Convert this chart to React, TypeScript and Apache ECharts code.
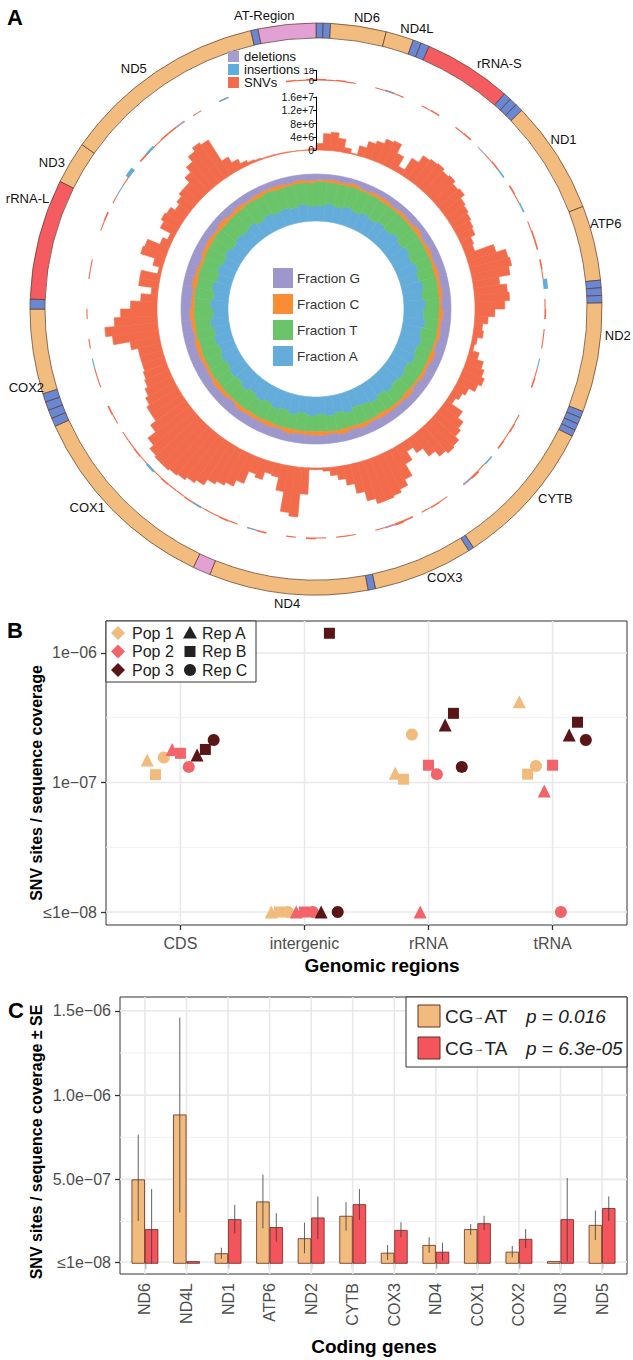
import React, { useEffect, useRef } from "react";
import * as echarts from "echarts";

// ================= Panel A : mitochondrial genome map =================
const featureNames = ["", "", "ND6", "ND4L", "", "", "rRNA-S", "", "", "", "ND1", "ATP6", "", "", "", "ND2", "", "", "", "", "CYTB", "", "COX3", "", "ND4", "", "COX1", "", "", "", "", "COX2", "", "rRNA-L", "ND3", "ND5", "", "AT-Region"];
const featureTypes = ["tRNA", "tRNA", "CDS", "CDS", "tRNA", "tRNA", "rRNA", "tRNA", "tRNA", "tRNA", "CDS", "CDS", "tRNA", "tRNA", "tRNA", "CDS", "tRNA", "tRNA", "tRNA", "tRNA", "CDS", "tRNA", "CDS", "tRNA", "CDS", "AT", "CDS", "tRNA", "tRNA", "tRNA", "tRNA", "CDS", "tRNA", "rRNA", "CDS", "CDS", "tRNA", "AT"];
const featureStarts = [1, 56, 113, 546, 763, 827, 894, 1580, 1641, 1702, 1764, 2645, 3227, 3286, 3345, 3403, 4254, 4306, 4358, 4410, 4461, 5618, 5661, 6438, 6496, 7733, 7871, 9419, 9486, 9553, 9620, 9687, 10346, 10423, 11362, 11691, 13290, 13346];
const featureEnds = [55, 112, 545, 762, 826, 893, 1579, 1640, 1701, 1763, 2644, 3226, 3285, 3344, 3402, 4253, 4305, 4357, 4409, 4460, 5617, 5660, 6437, 6495, 7732, 7870, 9418, 9485, 9552, 9619, 9686, 10345, 10422, 11361, 11690, 13289, 13345, 13794];

// SNV sequencing depth per window (millions), 144 windows clockwise from the origin
const snvDepthMillions = [
  2, 5, 5.6, 4, 1.5, 0.3, 3, 5, 6, 7.5,
  8, 5, 1.8, 6, 8.5, 9, 9.3, 8.5, 9, 8,
  8.5, 7, 6.5, 6, 5.5, 5, 3.5, 3, 9, 12,
  12.5, 11.5, 8, 10, 10.5, 9, 6, 4, 2.5, 3,
  1.5, 1, 3, 5, 6, 7, 6, 4, 3, 2,
  6, 8, 9, 10.5, 11, 10, 8, 5, 3, 6,
  10, 12, 13, 13.5, 13.6, 12, 9, 6, 4, 2.5,
  1, 0.5, 0.5, 8, 15, 14, 8, 4, 3.6, 6,
  5, 9, 11, 12, 13, 15, 16, 17, 17.5, 18,
  18, 17.5, 16, 13, 11, 11, 10, 9, 8, 7.5,
  7, 7, 7, 9, 14, 16, 13, 11, 8, 5,
  2, 6, 6, 1, 3, 7.5, 7, 3, 1.5, 5,
  6, 5.5, 4, 5, 6, 6, 8, 10, 12, 13.3,
  12.5, 5, 3, 1.5, 0.8, 0.5, 0.3, 0.3, 0.2, 0.2,
  0.1, 0.1, 0.1, 0.5,
];
const depthTickLabels = ["0", "4e+6", "8e+6", "1.2e+7", "1.6e+7"];

// variant counts track (same 144 windows)
const trackSnvCounts = [
  3, 2, 3, 2, 0, 0, 2, 3, 2, 0,
  0, 2, 3, 0, 0, 2, 3, 0, 0, 2,
  3, 0, 0, 3, 2, 0, 0, 2, 3, 3,
  0, 3, 2, 0, 0, 2, 3, 0, 2, 2,
  0, 0, 2, 3, 0, 0, 0, 2, 3, 2,
  3, 0, 0, 2, 4, 3, 0, 0, 2, 3,
  2, 0, 3, 4, 3, 2, 0, 0, 2, 2,
  0, 2, 3, 0, 2, 0, 0, 3, 2, 0,
  2, 3, 2, 2, 3, 3, 2, 2, 3, 2,
  3, 2, 3, 2, 2, 0, 2, 3, 0, 0,
  2, 2, 0, 0, 2, 0, 0, 2, 0, 0,
  0, 2, 2, 0, 0, 0, 2, 3, 0, 2,
  0, 2, 3, 0, 3, 2, 2, 3, 3, 2,
  0, 2, 0, 0, 2, 0, 0, 0, 0, 0,
  0, 3, 2, 3,
];
const insertionWindows = [7, 21, 25, 33, 41, 52, 78, 84, 90, 102, 120, 122, 125, 134];
const insertionCounts = [2, 3, 3, 8, 2, 3, 2, 3, 4, 2, 2, 7, 4, 2];
const deletionWindows = [18, 55, 64, 129];
const deletionCounts = [2, 3, 2, 3];
const trackTickLabels = ["0", "18"];

// base composition per window (72 windows)
const fractionA = [0.33, 0.38, 0.34, 0.39, 0.35, 0.40, 0.36, 0.41, 0.37, 0.43, 0.38, 0.44, 0.39, 0.45, 0.40, 0.46, 0.41, 0.47, 0.42, 0.47, 0.41, 0.46, 0.42, 0.47, 0.40, 0.45, 0.41, 0.45, 0.39, 0.44, 0.40, 0.37, 0.43, 0.38, 0.42, 0.37, 0.41, 0.36, 0.42, 0.37, 0.41, 0.35, 0.40, 0.34, 0.40, 0.35, 0.39, 0.34, 0.38, 0.33, 0.38, 0.34, 0.39, 0.32, 0.38, 0.33, 0.39, 0.32, 0.38, 0.33, 0.38, 0.32, 0.37, 0.34, 0.38, 0.32, 0.37, 0.33, 0.36, 0.33, 0.37, 0.32];
const fractionT = [0.52, 0.46, 0.49, 0.45, 0.48, 0.43, 0.45, 0.40, 0.44, 0.37, 0.42, 0.35, 0.39, 0.33, 0.36, 0.31, 0.35, 0.29, 0.33, 0.28, 0.35, 0.29, 0.32, 0.28, 0.36, 0.30, 0.33, 0.31, 0.37, 0.30, 0.35, 0.38, 0.31, 0.37, 0.33, 0.37, 0.33, 0.38, 0.32, 0.37, 0.32, 0.39, 0.33, 0.40, 0.33, 0.39, 0.34, 0.40, 0.34, 0.40, 0.33, 0.39, 0.33, 0.41, 0.34, 0.40, 0.33, 0.42, 0.35, 0.42, 0.38, 0.45, 0.39, 0.43, 0.40, 0.48, 0.42, 0.49, 0.44, 0.48, 0.46, 0.50];
const fractionC = [0.04, 0.06, 0.05, 0.07, 0.04, 0.06, 0.08, 0.05, 0.07, 0.06, 0.09, 0.05, 0.08, 0.05, 0.09, 0.06, 0.08, 0.05, 0.09, 0.06, 0.07, 0.05, 0.10, 0.06, 0.07, 0.05, 0.10, 0.06, 0.07, 0.09, 0.06, 0.09, 0.07, 0.10, 0.06, 0.09, 0.08, 0.07, 0.10, 0.06, 0.09, 0.07, 0.08, 0.09, 0.05, 0.08, 0.10, 0.06, 0.07, 0.08, 0.10, 0.05, 0.08, 0.09, 0.07, 0.05, 0.10, 0.07, 0.06, 0.08, 0.09, 0.06, 0.11, 0.07, 0.09, 0.05, 0.08, 0.06, 0.08, 0.05, 0.06, 0.05];
const fractionG = [0.11, 0.10, 0.12, 0.09, 0.13, 0.11, 0.11, 0.14, 0.12, 0.14, 0.11, 0.16, 0.14, 0.17, 0.15, 0.17, 0.16, 0.19, 0.16, 0.19, 0.17, 0.20, 0.16, 0.19, 0.17, 0.20, 0.16, 0.18, 0.17, 0.17, 0.19, 0.16, 0.19, 0.15, 0.19, 0.17, 0.18, 0.19, 0.16, 0.20, 0.18, 0.19, 0.19, 0.17, 0.22, 0.18, 0.17, 0.20, 0.21, 0.19, 0.19, 0.22, 0.20, 0.18, 0.21, 0.22, 0.18, 0.19, 0.21, 0.17, 0.15, 0.17, 0.13, 0.16, 0.13, 0.15, 0.13, 0.12, 0.12, 0.14, 0.11, 0.13];

// ================= Panel B : SNV rate per genomic region =================
const regions = ["CDS", "intergenic", "rRNA", "tRNA"];
const popNames = ["Pop 1", "Pop 2", "Pop 3"];
const repNames = ["Rep A", "Rep B", "Rep C"];
// rows: region; columns: Rep A, Rep B, Rep C
const pop1Rates = [[1.49e-7, 1.15e-7, 1.56e-7], [1e-8, 1e-8, 1e-8], [1.18e-7, 1.06e-7, 2.35e-7], [4.2e-7, 1.16e-7, 1.34e-7]];
const pop2Rates = [[1.8e-7, 1.68e-7, 1.32e-7], [1e-8, 1e-8, 1e-8], [1e-8, 1.36e-7, 1.16e-7], [8.6e-8, 1.36e-7, 1e-8]];
const pop3Rates = [[1.63e-7, 1.8e-7, 2.13e-7], [1e-8, 1.42e-6, 1e-8], [2.78e-7, 3.42e-7, 1.32e-7], [2.33e-7, 2.92e-7, 2.13e-7]];
const bTickValues = [1e-8, 1e-7, 1e-6];
const bTickLabels = ["\u22641e\u221208", "1e\u221207", "1e\u221206"];
const bMinorValues = [3.1623e-8, 3.1623e-7];

// ================= Panel C : CG->AT / CG->TA per coding gene =================
const codingGenes = ["ND6", "ND4L", "ND1", "ATP6", "ND2", "CYTB", "COX3", "ND4", "COX1", "COX2", "ND3", "ND5"];
const cgAtMean = [5.0e-7, 8.85e-7, 6.2e-8, 3.69e-7, 1.51e-7, 2.84e-7, 6.5e-8, 1.11e-7, 2.05e-7, 7.1e-8, 1.5e-8, 2.3e-7];
const cgAtLow = [2.54e-7, 3.04e-7, 2.9e-8, 2.1e-7, 6.2e-8, 1.96e-7, 2.2e-8, 6.5e-8, 1.71e-7, 3.8e-8, 1.5e-8, 1.41e-7];
const cgAtHigh = [7.66e-7, 1.46e-6, 9.5e-8, 5.28e-7, 2.44e-7, 3.65e-7, 1.11e-7, 1.57e-7, 2.35e-7, 1.05e-7, 1.5e-8, 3.15e-7];
const cgTaMean = [2.05e-7, 1.5e-8, 2.64e-7, 2.17e-7, 2.74e-7, 3.53e-7, 2.0e-7, 7.1e-8, 2.4e-7, 1.47e-7, 2.64e-7, 3.3e-7];
const cgTaLow = [0, 1.5e-8, 1.8e-7, 1.31e-7, 1.45e-7, 2.6e-7, 1.57e-7, 1.8e-8, 2.0e-7, 9.2e-8, 1.2e-8, 2.54e-7];
const cgTaHigh = [4.43e-7, 1.5e-8, 3.49e-7, 3.0e-7, 3.99e-7, 4.43e-7, 2.46e-7, 1.25e-7, 2.84e-7, 2.05e-7, 5.08e-7, 3.99e-7];
const cTickValues = [1e-8, 5e-7, 1e-6, 1.5e-6];
const cTickLabels = ["\u22641e\u221208", "5.0e\u221207", "1.0e\u221206", "1.5e\u221206"];
const cMinorValues = [2.5e-7, 7.5e-7, 1.25e-6];
const cLegendLabels = ["CG{a|\u2192}AT", "CG{a|\u2192}TA"];
const cLegendP = ["p = 0.016", "p = 6.3e-05"];

// ================= styles / layout =================
const FONT = "'Liberation Sans', Arial, Helvetica, sans-serif";
const CX = 316;
const CY = 309;
const TYPE_COLORS: Record<string, string> = { CDS: "#F2BC7F", rRNA: "#F45C62", tRNA: "#6A87D4", AT: "#E3A0D2" };
const SNV_COLOR = "#F26B4B";
const INS_COLOR = "#5DAEDC";
const DEL_COLOR = "#A49DD0";
const FRAC_COLORS: Record<string, string> = { G: "#9D97CB", C: "#FA8C34", T: "#6CC46A", A: "#64ADDA" };
const POP_COLORS = ["#F1BB7D", "#F3636A", "#5A1517"];
const REP_SYMBOLS = ["triangle", "rect", "circle"];
const REP_SIZES = [13, 11, 12];
const DODGE_STEP = 0.067;
const AT_COLOR = "#F1BB7D";
const TA_COLOR = "#F4555D";
const BAR_BORDER = "#6A2A1F";
const BAR_W = 13.4;
const GRID_MAJOR = "#E8E8E8";
const GRID_MINOR = "#EFEFEF";
// label placement (angle in degrees clockwise from top, radius px)
const GENE_LABEL_POS: Record<string, [number, number]> = {
  "AT-Region": [350, 298], ND6: [9.9, 296], ND4L: [19.8, 298], "rRNA-S": [36.8, 306], ND1: [55.6, 300],
  ATP6: [73.6, 302], ND2: [95.1, 303], CYTB: [128.3, 305], COX3: [154.4, 298], ND4: [185.6, 296],
  COX1: [229, 303], COX2: [254.9, 300], "rRNA-L": [291, 309], ND3: [299, 302], ND5: [322.9, 302],
};

function gridLines(xi: number, yi: number, dir: "h" | "v", values: number[], ref: number, color: string, width: number) {
  return {
    type: "custom",
    xAxisIndex: xi,
    yAxisIndex: yi,
    silent: true,
    z: 1,
    encode: { x: 0, y: 1 },
    data: values.map((v) => (dir === "h" ? [ref, v] : [v, ref])),
    renderItem: (params: any, api: any) => {
      const cs = params.coordSys;
      const p = api.coord([api.value(0), api.value(1)]);
      const shape = dir === "h"
        ? { x1: cs.x, y1: p[1], x2: cs.x + cs.width, y2: p[1] }
        : { x1: p[0], y1: cs.y, x2: p[0], y2: cs.y + cs.height };
      return { type: "line", shape, style: { stroke: color, lineWidth: width } };
    },
  };
}

function errorBars(low: number[], high: number[], offset: number) {
  return {
    type: "custom",
    xAxisIndex: 1,
    yAxisIndex: 1,
    silent: true,
    z: 5,
    encode: { x: 0, y: [1, 2] },
    data: low.map((l, i) => [i + 1, l, high[i]]),
    renderItem: (_params: any, api: any) => {
      const lo = api.coord([api.value(0), api.value(1)]);
      const hi = api.coord([api.value(0), api.value(2)]);
      const x = lo[0] + offset;
      return { type: "line", shape: { x1: x, y1: lo[1], x2: x, y2: hi[1] }, style: { stroke: "#3a3a3a", lineWidth: 0.8 } };
    },
  };
}

function txt(text: string, x: number, y: number, extra: any = {}, elExtra: any = {}) {
  return {
    type: "text",
    x,
    y,
    silent: true,
    z: 20,
    ...elExtra,
    style: { text, fontFamily: FONT, fontSize: 13, fill: "#111", textAlign: "center", textVerticalAlign: "middle", ...extra },
  };
}

function polarBar(name: string, polarIndex: number, data: (number | null)[], color: string, seamFix: boolean, extra: any = {}) {
  return {
    type: "bar",
    name,
    coordinateSystem: "polar",
    polarIndex,
    data,
    barCategoryGap: "0%",
    silent: true,
    itemStyle: seamFix ? { color, borderColor: color, borderWidth: 0.6 } : { color },
    ...extra,
  };
}

function buildOption() {
  const windowLabels = snvDepthMillions.map((_, i) => String(i));
  const fracLabels = fractionA.map((_, i) => String(i));
  const snvTrack = trackSnvCounts.map((v) => (v > 0 ? v : null));
  const insertionTrack: (number | null)[] = trackSnvCounts.map(() => null);
  insertionWindows.forEach((w, i) => { insertionTrack[w] = insertionCounts[i]; });
  const deletionTrack: (number | null)[] = trackSnvCounts.map(() => null);
  deletionWindows.forEach((w, i) => { deletionTrack[w] = deletionCounts[i]; });

  const pieData = featureNames.map((n, i) => ({
    name: n || featureTypes[i] + i,
    value: featureEnds[i] - featureStarts[i] + 1,
    itemStyle: { color: TYPE_COLORS[featureTypes[i]] },
  }));

  const geneLabels = featureNames.filter((n) => n).map((name) => {
    const [deg, r] = GENE_LABEL_POS[name];
    const a = (deg * Math.PI) / 180;
    return txt(name, CX + r * Math.sin(a), CY - r * Math.cos(a), { fontSize: 13 });
  });

  const popRates = [pop1Rates, pop2Rates, pop3Rates];
  const scatterSeries = popRates.map((rates, p) => ({
    type: "scatter",
    name: popNames[p],
    xAxisIndex: 0,
    yAxisIndex: 0,
    z: 4,
    silent: true,
    itemStyle: { color: POP_COLORS[p], opacity: 1 },
    data: rates.flatMap((reps, r) =>
      reps.map((v, k) => ({
        value: [r + 1 + (p * 3 + k - 4) * DODGE_STEP, v],
        symbol: REP_SYMBOLS[k],
        symbolSize: REP_SIZES[k],
      }))
    ),
  }));

  // panel B legend
  const bLegend: any[] = [
    { type: "rect", shape: { x: 106, y: 621, width: 150, height: 61 }, style: { fill: "#fff", stroke: "#333", lineWidth: 1 }, z: 15, silent: true },
  ];
  popNames.forEach((name, i) => {
    const y = 633 + i * 18.5;
    bLegend.push({ type: "polygon", shape: { points: [[118, y - 7], [125, y], [118, y + 7], [111, y]] }, style: { fill: POP_COLORS[i] }, z: 16, silent: true });
    bLegend.push(txt(name, 132, y, { fontSize: 16, textAlign: "left", fill: "#222" }));
  });
  repNames.forEach((name, i) => {
    const y = 633 + i * 18.5;
    if (i === 0) bLegend.push({ type: "polygon", shape: { points: [[190, y - 7], [197, y + 5.5], [183, y + 5.5]] }, style: { fill: "#222" }, z: 16, silent: true });
    if (i === 1) bLegend.push({ type: "rect", shape: { x: 184.5, y: y - 5.5, width: 11, height: 11 }, style: { fill: "#222" }, z: 16, silent: true });
    if (i === 2) bLegend.push({ type: "circle", shape: { cx: 190, cy: y, r: 6 }, style: { fill: "#222" }, z: 16, silent: true });
    bLegend.push(txt(name, 202, y, { fontSize: 16, textAlign: "left", fill: "#222" }));
  });

  // panel C legend
  const cLegend: any[] = [
    { type: "rect", shape: { x: 406, y: 997, width: 221, height: 70 }, style: { fill: "#fff", stroke: "#333", lineWidth: 1 }, z: 15, silent: true },
  ];
  [AT_COLOR, TA_COLOR].forEach((c, i) => {
    const y = 1016 + i * 32;
    cLegend.push({ type: "rect", shape: { x: 418, y: y - 11, width: 22, height: 22 }, style: { fill: c, stroke: BAR_BORDER, lineWidth: 1 }, z: 16, silent: true });
    cLegend.push(txt(cLegendLabels[i], 445, y, { fontSize: 19, textAlign: "left", fill: "#222", rich: { a: { fontSize: 11, fontFamily: FONT, fill: "#222" } } }));
    cLegend.push(txt(cLegendP[i], 526, y, { fontSize: 19, fontStyle: "italic", textAlign: "left", fill: "#222" }));
  });

  const panelLetter = (t: string, x: number, y: number) => txt(t, x, y, { fontSize: 22, fontWeight: "bold", textAlign: "left", textVerticalAlign: "top", fill: "#000" });

  return {
    animation: false,
    backgroundColor: "#fff",
    textStyle: { fontFamily: FONT },
    legend: [
      {
        data: ["deletions", "insertions", "SNVs"],
        orient: "vertical",
        left: 228,
        top: 50,
        padding: 0,
        itemWidth: 11,
        itemHeight: 11,
        itemGap: 0,
        icon: "rect",
        selectedMode: false,
        textStyle: { fontSize: 13, color: "#111", lineHeight: 12, fontFamily: FONT },
      },
      {
        data: ["Fraction G", "Fraction C", "Fraction T", "Fraction A"],
        orient: "vertical",
        left: 273,
        top: 268,
        padding: 0,
        itemWidth: 18,
        itemHeight: 18,
        itemGap: 6,
        icon: "rect",
        selectedMode: false,
        textStyle: { fontSize: 13.5, color: "#333", fontFamily: FONT },
      },
    ],
    polar: [
      { center: [CX, CY], radius: [159, 225.25] },
      { center: [CX, CY], radius: [159, 212] },
      { center: [CX, CY], radius: [228.5, 238.5] },
      { center: [CX, CY], radius: [88, 135] },
    ],
    angleAxis: [
      { polarIndex: 0, type: "category", data: windowLabels, startAngle: 90, clockwise: true, show: false },
      { polarIndex: 1, type: "value", min: 0, max: 360, startAngle: 90, show: false },
      { polarIndex: 2, type: "category", data: windowLabels, startAngle: 90, clockwise: true, show: false },
      { polarIndex: 3, type: "category", data: fracLabels, startAngle: 90, clockwise: true, show: false },
    ],
    radiusAxis: [
      { polarIndex: 0, type: "value", min: 0, max: 20, show: false },
      {
        polarIndex: 1, type: "value", min: 0, max: 16, interval: 4, z: 10,
        axisLine: { show: true, lineStyle: { color: "#000", width: 1 } },
        axisTick: { show: true, length: 3, lineStyle: { color: "#000", width: 1 } },
        axisLabel: { fontSize: 10.5, color: "#111", margin: 2, showMinLabel: true, showMaxLabel: true, hideOverlap: false, formatter: (v: number) => depthTickLabels[Math.round(v / 4)] },
        splitLine: { show: false },
        splitArea: { show: false },
      },
      {
        polarIndex: 2, type: "value", min: 0, max: 18, interval: 18, z: 10,
        axisLine: { show: true, lineStyle: { color: "#000", width: 1 } },
        axisTick: { show: true, length: 3, lineStyle: { color: "#000", width: 1 } },
        axisLabel: { fontSize: 9.5, lineHeight: 7, color: "#111", margin: 2, showMinLabel: true, showMaxLabel: true, hideOverlap: false, formatter: (v: number) => trackTickLabels[v > 0 ? 1 : 0] },
        splitLine: { show: false },
        splitArea: { show: false },
      },
      { polarIndex: 3, type: "value", min: 0, max: 1, show: false },
    ],
    grid: [
      { left: 106, top: 621, width: 521, height: 304, show: true, borderColor: "#333", borderWidth: 1, backgroundColor: "transparent" },
      { left: 120, top: 997, width: 507, height: 277, show: true, borderColor: "#333", borderWidth: 1, backgroundColor: "transparent" },
    ],
    xAxis: [
      {
        gridIndex: 0, type: "value", min: 0.4, max: 4.6,
        axisLine: { show: false }, splitLine: { show: false },
        axisTick: { show: true, customValues: [1, 2, 3, 4], length: 5, lineStyle: { color: "#333", width: 1.3 } },
        axisLabel: { customValues: [1, 2, 3, 4], formatter: (v: number) => regions[Math.round(v) - 1], color: "#4d4d4d", fontSize: 16, margin: 10 },
      },
      {
        gridIndex: 1, type: "value", min: 0.4, max: 12.6,
        axisLine: { show: false }, splitLine: { show: false },
        axisTick: { show: true, customValues: codingGenes.map((_, i) => i + 1), length: 5, lineStyle: { color: "#333", width: 1.3 } },
        axisLabel: { customValues: codingGenes.map((_, i) => i + 1), formatter: (v: number) => codingGenes[Math.round(v) - 1], color: "#4d4d4d", fontSize: 16, margin: 9, rotate: 90 },
      },
    ],
    yAxis: [
      {
        gridIndex: 0, type: "log", logBase: 10, min: 7.94e-9, max: 1.766e-6,
        axisLine: { show: false }, splitLine: { show: false },
        axisTick: { show: true, customValues: bTickValues, length: 5, lineStyle: { color: "#333", width: 1.3 } },
        axisLabel: {
          customValues: bTickValues, color: "#4d4d4d", fontSize: 16, margin: 9,
          formatter: (v: number) => bTickLabels[Math.round(Math.log10(v)) + 8],
        },
      },
      {
        gridIndex: 1, type: "value", min: -6.1e-8, max: 1.582e-6,
        axisLine: { show: false }, splitLine: { show: false },
        axisTick: { show: true, customValues: cTickValues, length: 5, lineStyle: { color: "#333", width: 1.3 } },
        axisLabel: {
          customValues: cTickValues, color: "#4d4d4d", fontSize: 16, margin: 9,
          formatter: (v: number) => {
            let best = 0;
            cTickValues.forEach((t, i) => { if (Math.abs(t - v) < Math.abs(cTickValues[best] - v)) best = i; });
            return cTickLabels[best];
          },
        },
      },
    ],
    series: [
      // ---- panel A ----
      {
        type: "pie", name: "genes", center: [CX, CY], radius: [271, 286], startAngle: 90, clockwise: true,
        silent: true, avoidLabelOverlap: false, label: { show: false }, labelLine: { show: false },
        emphasis: { disabled: true },
        itemStyle: { borderColor: "#5B3A28", borderWidth: 0.7 },
        data: pieData,
      },
      polarBar("SNV depth", 0, snvDepthMillions, SNV_COLOR, true),
      polarBar("SNVs", 2, snvTrack, SNV_COLOR, false, { barGap: "-100%" }),
      polarBar("deletions", 2, deletionTrack, DEL_COLOR, false, { barGap: "-100%" }),
      polarBar("insertions", 2, insertionTrack, INS_COLOR, false, { barGap: "-100%" }),
      polarBar("Fraction A", 3, fractionA, FRAC_COLORS.A, true, { stack: "frac" }),
      polarBar("Fraction T", 3, fractionT, FRAC_COLORS.T, true, { stack: "frac" }),
      polarBar("Fraction C", 3, fractionC, FRAC_COLORS.C, true, { stack: "frac" }),
      polarBar("Fraction G", 3, fractionG, FRAC_COLORS.G, true, { stack: "frac" }),
      // ---- panel B ----
      gridLines(0, 0, "h", bMinorValues, 2.5, GRID_MINOR, 1),
      gridLines(0, 0, "h", bTickValues, 2.5, GRID_MAJOR, 1.6),
      gridLines(0, 0, "v", [1, 2, 3, 4], 1e-7, GRID_MAJOR, 1.6),
      ...scatterSeries,
      // ---- panel C ----
      gridLines(1, 1, "h", cMinorValues, 6, GRID_MINOR, 1),
      gridLines(1, 1, "h", cTickValues, 6, GRID_MAJOR, 1.6),
      gridLines(1, 1, "v", codingGenes.map((_, i) => i + 1), 5e-7, GRID_MAJOR, 1.6),
      {
        type: "bar", name: "CG\u2192AT", xAxisIndex: 1, yAxisIndex: 1, z: 3, silent: true,
        data: cgAtMean.map((v, i) => [i + 1, v]), barWidth: BAR_W, barGap: "0%",
        itemStyle: { color: AT_COLOR, borderColor: BAR_BORDER, borderWidth: 0.8 },
      },
      {
        type: "bar", name: "CG\u2192TA", xAxisIndex: 1, yAxisIndex: 1, z: 3, silent: true,
        data: cgTaMean.map((v, i) => [i + 1, v]), barWidth: BAR_W, barGap: "0%",
        itemStyle: { color: TA_COLOR, borderColor: BAR_BORDER, borderWidth: 0.8 },
      },
      errorBars(cgAtLow, cgAtHigh, -BAR_W / 2),
      errorBars(cgTaLow, cgTaHigh, BAR_W / 2),
    ],
    graphic: [
      panelLetter("A", 7, 6),
      panelLetter("B", 7, 619),
      panelLetter("C", 8, 999),
      ...geneLabels,
      txt("SNV sites / sequence coverage", 36, 783, { fontSize: 16, fontWeight: "bold", fill: "#000" }, { rotation: Math.PI / 2 }),
      txt("Genomic regions", 382, 965, { fontSize: 19, fontWeight: "bold", fill: "#000" }),
      txt("SNV sites / sequence coverage \u00b1 SE", 36, 1142, { fontSize: 16, fontWeight: "bold", fill: "#000" }, { rotation: Math.PI / 2 }),
      txt("Coding genes", 374, 1346, { fontSize: 19, fontWeight: "bold", fill: "#000" }),
      ...bLegend,
      ...cLegend,
    ],
  };
}

export default function App() {
  const ref = useRef<HTMLDivElement>(null);
  useEffect(() => {
    document.body.style.margin = "0";
    const chart = echarts.init(ref.current as HTMLDivElement, null, { renderer: "svg" });
    chart.setOption(buildOption() as any);
    return () => chart.dispose();
  }, []);
  return <div ref={ref} style={{ width: 633, height: 1360, background: "#fff" }} />;
}
